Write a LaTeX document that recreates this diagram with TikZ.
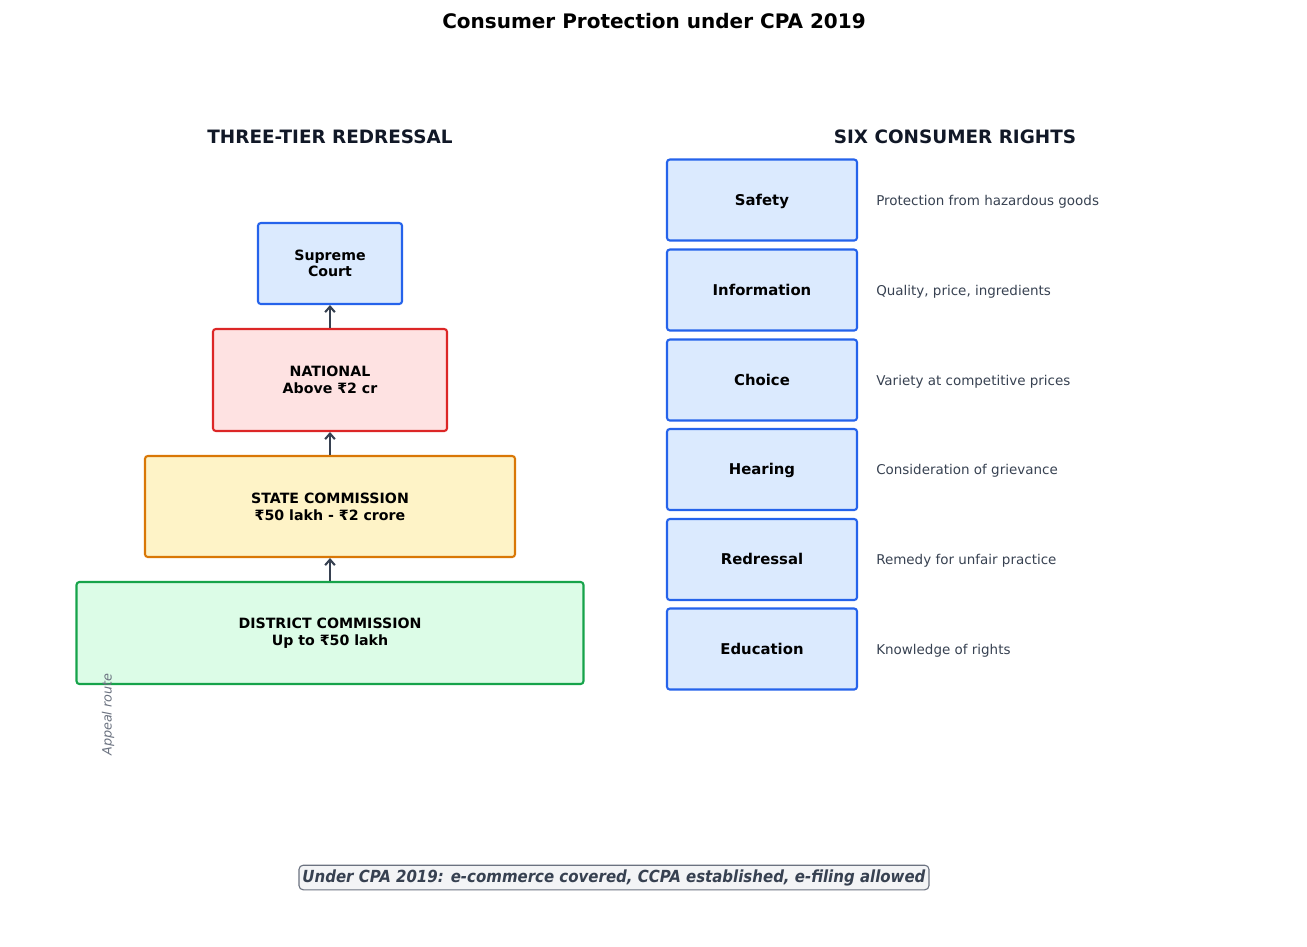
\documentclass[tikz,border=0pt]{standalone}
\usepackage{fontspec}
\setmainfont{DejaVu Sans}
\newfontfamily\condfont{DejaVu Sans Condensed}
\usetikzlibrary{arrows.meta}
\definecolor{bluebd}{HTML}{2563EB}\definecolor{bluefl}{HTML}{DBEAFE}
\definecolor{redbd}{HTML}{DC2626}\definecolor{redfl}{HTML}{FEE2E2}
\definecolor{orgbd}{HTML}{D97706}\definecolor{orgfl}{HTML}{FEF3C7}
\definecolor{grnbd}{HTML}{16A34A}\definecolor{grnfl}{HTML}{DCFCE7}
\definecolor{headc}{HTML}{111827}\definecolor{darkc}{HTML}{374151}
\definecolor{grayc}{HTML}{6B7280}\definecolor{notefl}{HTML}{F3F4F6}
\tikzset{
  tier/.style={draw, line width=1.5pt, rounded corners=2pt, inner sep=0pt, align=center,
    font=\fontsize{10.2}{12}\selectfont\bfseries},
  right/.style={draw=bluebd, fill=bluefl, line width=1.5pt, rounded corners=2pt, inner sep=0pt,
    minimum width=136.8pt, minimum height=58.3pt, text height=0.76em, text depth=0pt,
    font=\fontsize{10.7}{12}\selectfont\bfseries},
  desc/.style={anchor=west, inner sep=0pt, text=darkc, text height=0.76em, text depth=0pt,
    font=\fontsize{9.7}{11}\selectfont},
  head/.style={text=headc, font=\fontsize{13.25}{15}\selectfont\bfseries},
  up/.style={draw=darkc, line width=1.5pt, -{Straight Barb[length=4pt,width=7pt]}},
}
\begin{document}
\begin{tikzpicture}[x=0.72pt,y=-0.72pt]
\useasboundingbox (0,0) rectangle (1307,946);
\node[font=\fontsize{14.4}{16}\selectfont\bfseries] (title) at (654,21) {Consumer Protection under CPA 2019};
\node[head] (hl) at (330,137) {THREE-TIER REDRESSAL};
\node[head] (hr) at (955,137) {SIX CONSUMER RIGHTS};
% tiers
\node[tier, draw=bluebd, fill=bluefl, minimum width=103.7pt, minimum height=58.3pt] (sc) at (330,263.5) {Supreme\\Court};
\node[tier, draw=redbd, fill=redfl, minimum width=168.5pt, minimum height=73.4pt] (nat) at (330,380) {NATIONAL\\Above ₹2 cr};
\node[tier, draw=orgbd, fill=orgfl, minimum width=266.4pt, minimum height=72.7pt] (st) at (330,506.5) {STATE COMMISSION\\₹50 lakh - ₹2 crore};
\node[tier, draw=grnbd, fill=grnfl, minimum width=365pt, minimum height=73.4pt] (dc) at (330,633) {DISTRICT COMMISSION\\Up to ₹50 lakh};
\draw[up] (dc.north) -- (st.south);
\draw[up] (st.north) -- (nat.south);
\draw[up] (nat.north) -- (sc.south);
\node[rotate=90, text=grayc, font=\fontsize{9.2}{11}\selectfont\itshape] (ar) at (108,714.5) {Appeal route};
% rights
\node[right] (r1) at (762,200) {Safety};
\node[right] (r2) at (762,290) {Information};
\node[right] (r3) at (762,380) {Choice};
\node[right] (r4) at (762,469.5) {Hearing};
\node[right] (r5) at (762,559.5) {Redressal};
\node[right] (r6) at (762,649) {Education};
\node[desc] (d1) at (876,200) {Protection from hazardous goods};
\node[desc] (d2) at (876,290) {Quality, price, ingredients};
\node[desc] (d3) at (876,380) {Variety at competitive prices};
\node[desc] (d4) at (876,469.5) {Consideration of grievance};
\node[desc] (d5) at (876,559.5) {Remedy for unfair practice};
\node[desc] (d6) at (876,649) {Knowledge of rights};
% note
\node[draw=grayc, fill=notefl, line width=0.8pt, rounded corners=3pt, text=darkc, inner xsep=2.5pt, inner ysep=3pt,
  font=\condfont\fontsize{12}{14}\selectfont\bfseries\itshape] (note) at (614,877.5) {Under CPA 2019: e-commerce covered, CCPA established, e-filing allowed};
\end{tikzpicture}
\end{document}
